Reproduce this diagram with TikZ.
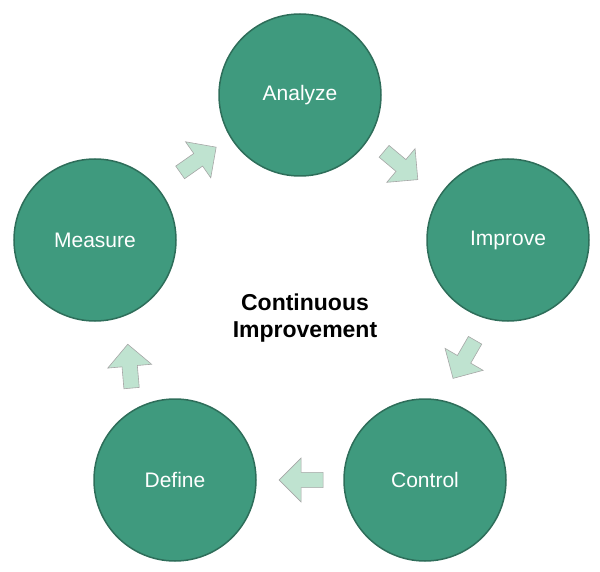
\documentclass[tikz,border=0pt]{standalone}
\usepackage{fontspec}
\setmainfont{Liberation Sans}
\usetikzlibrary{shapes.arrows}
\definecolor{stepgreen}{HTML}{3F9A7E}
\definecolor{stepedge}{HTML}{2E6E5A}
\definecolor{arrowgreen}{HTML}{BFE3D0}
\tikzset{
  stepcircle/.style={circle, draw=stepedge, line width=1.5pt, fill=stepgreen,
    minimum size=162pt, text=white, font=\fontsize{21}{25}\selectfont},
  flow/.style={single arrow, draw=gray!70, fill=arrowgreen, line width=0.6pt,
    minimum height=44pt, minimum width=44pt, single arrow head extend=8pt, inner sep=4pt}
}
\begin{document}
\begin{tikzpicture}[x=1pt,y=-1pt]
  \useasboundingbox (0,0) rectangle (600,572);
  % Steps
  \node[stepcircle] (analyze) at (300,95) {Analyze};
  \node[stepcircle] (improve) at (508,240) {Improve};
  \node[stepcircle] (control) at (425,480) {Control};
  \node[stepcircle] (define) at (175,480) {Define};
  \node[stepcircle] (measure) at (95,240) {Measure};
  % Arrows between steps
  \node[flow, rotate=35] (a1) at (195,162) {};
  \node[flow, rotate=-40] (a2) at (398,163) {};
  \node[flow, rotate=-120] (a3) at (466,356) {};
  \node[flow, rotate=180] (a4) at (305,480) {};
  \node[flow, rotate=95] (a5) at (130,370) {};
  % Centre
  \node[font=\bfseries\fontsize{23}{27}\selectfont, align=center] (title) at (305,318)
    {Continuous\\Improvement};
\end{tikzpicture}
\end{document}
